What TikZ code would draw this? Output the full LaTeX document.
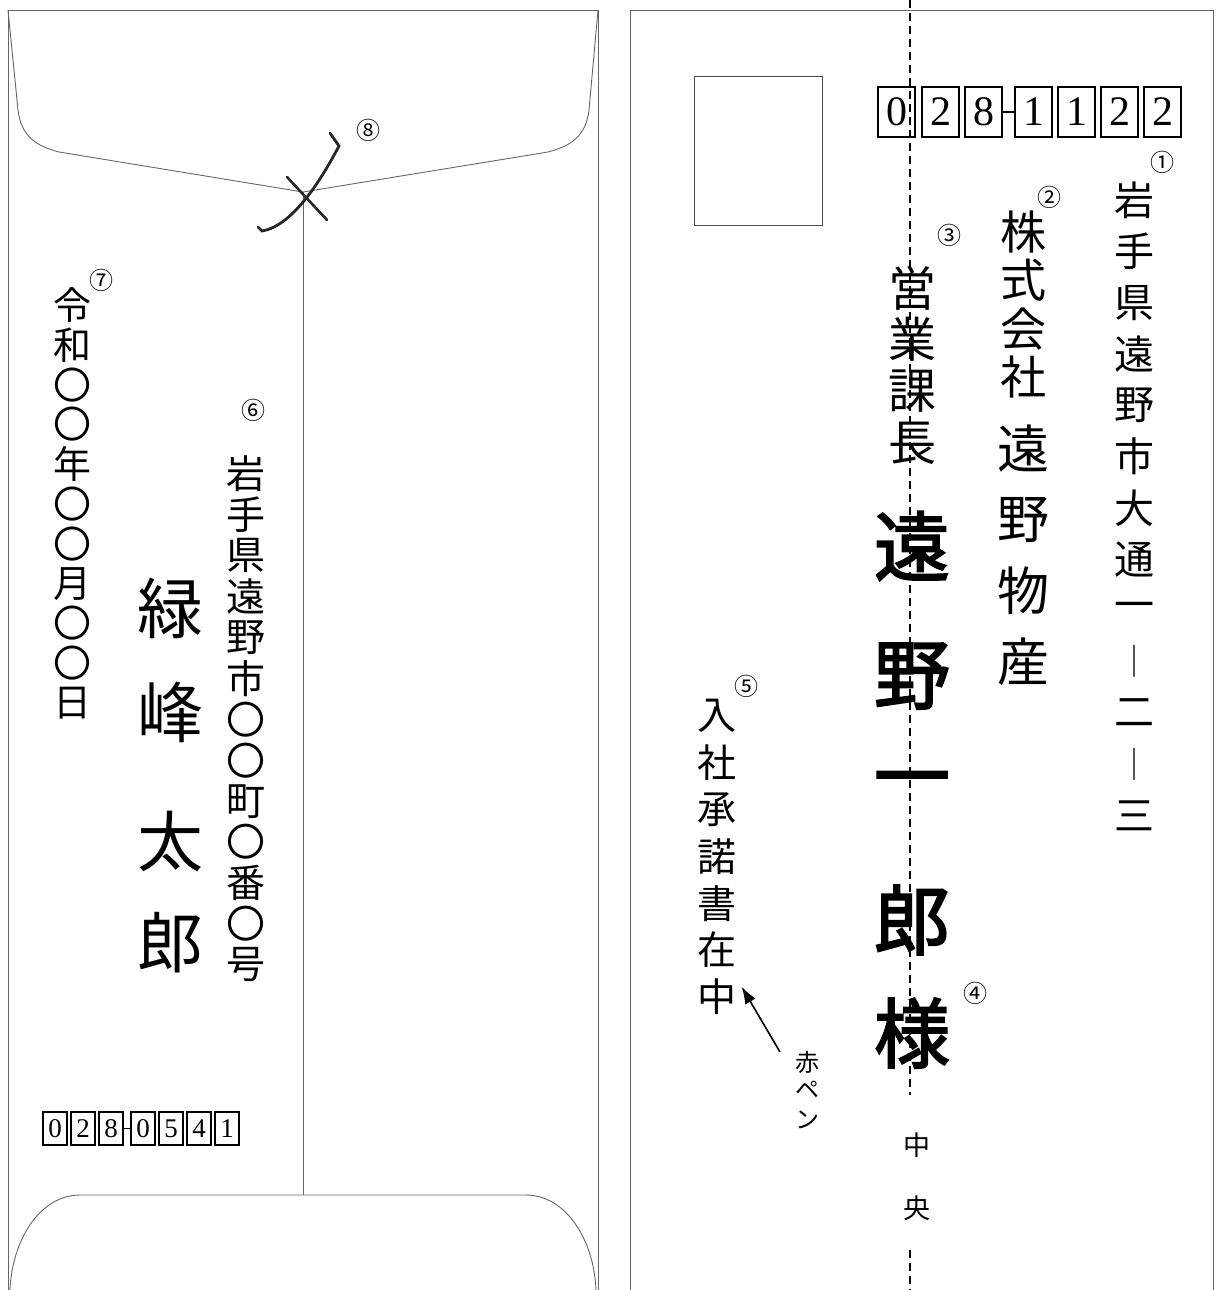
\documentclass[tikz,border=0pt]{standalone}
\usepackage{fontspec}
\usepackage{tikz}
\usetikzlibrary{arrows.meta}
\newfontfamily\jp{Noto Sans CJK JP}
\newfontfamily\jpbold[FakeBold=2.5]{Noto Sans CJK JP}
\newfontfamily\digits{Liberation Serif}
\tikzstyle{edge}=[draw=black!60,line width=0.9pt]
\tikzstyle{zipbox}=[draw,line width=1.3pt,inner sep=0pt]
\tikzstyle{circnum}=[inner sep=0pt,font=\jp\fontsize{24}{24}\selectfont]
\tikzstyle{center line}=[line width=1.6pt,dash pattern=on 8pt off 5pt]
\tikzset{kanji/.style={inner sep=0pt,font=\jp\fontsize{#1}{#1}\selectfont}}

\begin{document}
\begin{tikzpicture}[x=1pt,y=-1pt]
  \useasboundingbox (0,0) rectangle (1217,1290);

  % back of the envelope
  \draw[edge] (8,1290) -- (8,10) -- (598,10) -- (598,1290);
  \draw[edge] (8,10) -- (18,110) .. controls (21,136) and (36,146) .. (59,152) -- (303,192)
    -- (548,152) .. controls (571,146) and (586,136) .. (589,110) -- (598,10);
  \draw[edge] (303,192) -- (303,1195);
  \draw[edge] (10,1290) .. controls (12,1240) and (40,1195) .. (80,1195) -- (526,1195)
    .. controls (566,1195) and (594,1240) .. (596,1290);
  \draw[line width=2.8pt,line cap=round,black!85] (330,133) -- (339,146)
    .. controls (320,182) and (292,226) .. (262,231) -- (258,227);
  \draw[line width=2.6pt,line cap=round,black!85] (287,177) -- (327,220);
  \node[circnum] (n8) at (368,130) {⑧};

  \foreach \ch [count=\i] in {令,和,〇,〇,年,〇,〇,月,〇,〇,日}
    \node[kanji=38] (date-\i) at (72,{305+(\i-1)*39.8}) {\ch};
  \node[circnum] (n7) at (101,280) {⑦};

  \foreach \ch [count=\i] in {岩,手,県,遠,野,市,〇,〇,町,〇,番,〇,号}
    \node[kanji=39] (from-\i) at (246,{474+(\i-1)*40.9}) {\ch};
  \node[circnum] (n6) at (253,410) {⑥};

  \foreach \ch/\y [count=\i] in {緑/608,峰/712,太/842,郎/943}
    \node[kanji=66] (sender-\i) at (170,\y) {\ch};

  \foreach \d/\x [count=\i] in {0/55,2/83,8/111,0/143,5/171,4/199,1/227}
    \node[zipbox,minimum width=24pt,minimum height=33pt,font=\digits\fontsize{27}{27}\selectfont]
      (lz-\i) at (\x,1128.5) {\d};
  \draw[line width=1.3pt] (lz-3) -- (lz-4);

  % front of the envelope
  \draw[edge] (630,1290) -- (630,10) -- (1213,10) -- (1213,1290);
  \node[draw=black!70,line width=1pt,minimum width=128pt,minimum height=149pt] (stamp) at (758,150.5) {};
  \draw[center line] (910,0) -- (910,1095);
  \draw[center line] (910,1250) -- (910,1290);

  \foreach \d/\x [count=\i] in {0/896.5,2/940.5,8/983.5,1/1033.5,1/1076.5,2/1119.5,2/1162.5}
    \node[zipbox,minimum width=37pt,minimum height=50pt,font=\digits\fontsize{42}{42}\selectfont]
      (rz-\i) at (\x,112) {\d};
  \draw[line width=1.3pt] (rz-3) -- (rz-4);

  \foreach \ch [count=\i] in {岩,手,県,遠,野,市,大,通,一,{\fontsize{32}{32}\selectfont ｜},二,{\fontsize{32}{32}\selectfont ｜},三}
    \node[kanji=40] (to-\i) at (1134,{200+(\i-1)*51.3}) {\ch};
  \node[circnum] (n1) at (1162,162) {①};

  \foreach \ch [count=\i] in {株,式,会,社}
    \node[kanji=46] (co-\i) at (1023,{232+(\i-1)*48.5}) {\ch};
  \foreach \ch [count=\i] in {遠,野,物,産}
    \node[kanji=52] (firm-\i) at (1023,{449+(\i-1)*71}) {\ch};
  \node[circnum] (n2) at (1049,197) {②};

  \foreach \ch [count=\i] in {営,業,課,長}
    \node[kanji=48] (post-\i) at (912,{288+(\i-1)*51.7}) {\ch};
  \node[circnum] (n3) at (949,235) {③};

  \foreach \ch/\y [count=\i] in {遠/546,野/676,一/788,郎/920,様/1033}
    \node[inner sep=0pt,font=\jpbold\fontsize{76}{76}\selectfont] (rcpt-\i) at (912,\y) {\ch};
  \node[circnum] (n4) at (975,993) {④};

  \foreach \ch [count=\i] in {入,社,承,諾,書,在,中}
    \node[kanji=39] (encl-\i) at (717,{716+(\i-1)*46.8}) {\ch};
  \node[circnum] (n5) at (746,686) {⑤};

  \foreach \ch/\y [count=\i] in {赤/1062,ペ/1090,ン/1120}
    \node[kanji=24] (pen-\i) at (807,\y) {\ch};
  \coordinate (pentail) at (780,1052);
  \draw[-{Latex[length=17pt,width=12pt]},line width=1.6pt] (pentail) -- ([xshift=5pt,yshift=10pt]encl-7.east);

  \node[kanji=27] (mid-1) at (917,1145) {中};
  \node[kanji=27] (mid-2) at (917,1208) {央};
\end{tikzpicture}
\end{document}
